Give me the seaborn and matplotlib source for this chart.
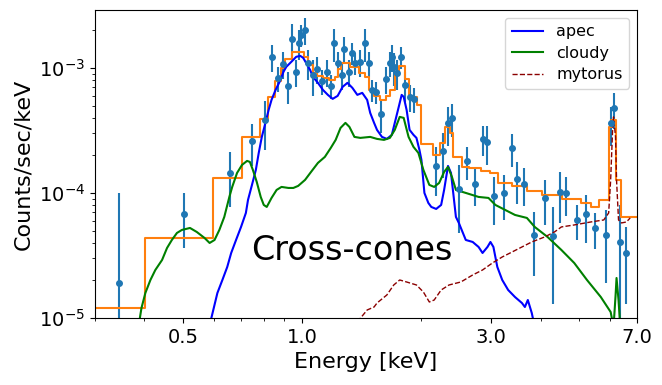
import matplotlib
matplotlib.use('Agg')
import numpy as np
import seaborn as sns
from matplotlib import pyplot as plt
from matplotlib.ticker import FixedLocator, FixedFormatter, LogLocator, NullFormatter

# binned spectrum (keV, counts/sec/keV, 1-sigma)
data_e = [0.345, 0.503, 0.658, 0.747, 0.804, 0.837, 0.867, 0.897, 0.923, 0.944,
          0.966, 0.983, 0.994, 1.017, 1.035, 1.065, 1.090, 1.121, 1.154, 1.181,
          1.201, 1.229, 1.257, 1.279, 1.316, 1.339, 1.362, 1.402, 1.443, 1.476,
          1.502, 1.537, 1.581, 1.627, 1.665, 1.684, 1.703, 1.733, 1.773, 1.814,
          1.867, 1.921, 2.179, 2.269, 2.334, 2.388, 2.486, 2.603, 2.725, 2.853,
          2.936, 3.056, 3.236, 3.388, 3.486, 3.629, 3.842, 4.093, 4.308, 4.484,
          4.642, 4.943, 5.204, 5.480, 5.838, 6.007, 6.109, 6.324, 6.584]
data_y = [1.9e-5, 6.8e-5, 1.45e-4, 2.6e-4, 3.8e-4, 1.23e-3, 8.3e-4, 1.08e-3, 7.2e-4, 1.71e-3,
          9.3e-4, 1.59e-3, 1.84e-3, 2.01e-3, 1.10e-3, 8.8e-4, 9.8e-4, 7.9e-4, 9.3e-4, 7.2e-4,
          1.59e-3, 1.10e-3, 8.8e-4, 1.42e-3, 9.3e-4, 1.32e-3, 1.10e-3, 1.12e-3, 1.59e-3, 1.10e-3,
          6.7e-4, 6.4e-4, 4.3e-4, 8.2e-4, 1.10e-3, 1.23e-3, 1.02e-3, 9.1e-4, 1.23e-3, 7.3e-4,
          5.9e-4, 5.65e-4, 1.64e-4, 2.17e-4, 3.63e-4, 3.98e-4, 1.08e-4, 1.80e-4, 1.18e-4, 2.70e-4,
          2.56e-4, 9.5e-5, 1.0e-4, 2.29e-4, 1.29e-4, 1.18e-4, 4.6e-5, 9.1e-5, 4.5e-5, 1.02e-4,
          1.0e-4, 6.1e-5, 6.8e-5, 5.25e-5, 4.6e-5, 3.63e-4, 4.79e-4, 4.05e-5, 3.3e-5]
data_err = [8.1e-5, 3.2e-5, 6.8e-5, 9.6e-5, 1.6e-4, 3.0e-4, 1.9e-4, 2.7e-4, 2.1e-4, 5.4e-4,
            2.3e-4, 4.3e-4, 3.7e-4, 5.0e-4, 3.0e-4, 2.8e-4, 2.4e-4, 1.8e-4, 2.3e-4, 1.6e-4,
            4.7e-4, 2.5e-4, 2.2e-4, 3.5e-4, 2.3e-4, 2.7e-4, 2.2e-4, 2.8e-4, 4.7e-4, 2.5e-4,
            1.35e-4, 1.3e-4, 1.26e-4, 2.0e-4, 2.5e-4, 3.0e-4, 3.0e-4, 2.5e-4, 2.5e-4, 2.0e-4,
            1.45e-4, 1.27e-4, 6.9e-5, 8.5e-5, 1.25e-4, 1.17e-4, 6.0e-5, 5.3e-5, 4.0e-5, 7.3e-5,
            8.8e-5, 4.0e-5, 3.9e-5, 6.7e-5, 4.8e-5, 4.0e-5, 2.44e-5, 3.6e-5, 3.2e-5, 4.5e-5,
            3.4e-5, 1.9e-5, 2.85e-5, 1.67e-5, 2.7e-5, 1.25e-4, 1.52e-4, 4.0e-5, 2.0e-5]

# total model, binned like the data
total_edges = [0.302, 0.402, 0.594, 0.705, 0.782, 0.818, 0.852, 0.882, 0.907, 0.944,
               1.011, 1.035, 1.065, 1.090, 1.128, 1.167, 1.208, 1.229, 1.250, 1.324,
               1.394, 1.443, 1.476, 1.519, 1.572, 1.627, 1.665, 1.713, 1.753, 1.814,
               1.856, 1.954, 2.0, 2.142, 2.230, 2.295, 2.361, 2.402, 2.529, 2.633,
               2.820, 2.987, 3.126, 3.388, 3.692, 4.022, 4.536, 5.058, 5.356, 5.608,
               5.938, 6.007, 6.18, 6.362, 7.0]
total_vals = [1.2e-5, 4.37e-5, 1.32e-4, 2.8e-4, 3.91e-4, 5.86e-4, 7.87e-4, 1.0e-3, 1.18e-3, 1.34e-3,
              1.225e-3, 1.057e-3, 9.12e-4, 8.63e-4, 8.32e-4, 8.02e-4, 8.47e-4, 9.82e-4, 1.096e-3, 1.019e-3,
              9.12e-4, 8.47e-4, 6.67e-4, 5.97e-4, 5.55e-4, 5.97e-4, 6.67e-4, 8.79e-4, 1.038e-3, 8.17e-4,
              5.86e-4, 5.06e-4, 2.47e-4, 2.01e-4, 2.51e-4, 3.37e-4, 3.02e-4, 1.94e-4, 1.61e-4, 1.585e-4,
              1.5e-4, 1.445e-4, 1.2e-4, 1.14e-4, 1.04e-4, 9.64e-5, 8.95e-5, 8.32e-5, 7.73e-5, 8.79e-5,
              3.37e-4, 3.84e-4, 1.27e-4, 6.43e-5]

# model components
apec_e = [0.58, 0.611, 0.629, 0.647, 0.662, 0.681, 0.701, 0.721, 0.730, 0.747,
          0.764, 0.777, 0.791, 0.809, 0.823, 0.837, 0.857, 0.882, 0.897, 0.912,
          0.939, 0.966, 0.989, 1.006, 1.023, 1.047, 1.065, 1.096, 1.128, 1.161,
          1.194, 1.229, 1.265, 1.301, 1.339, 1.378, 1.418, 1.459, 1.485, 1.519,
          1.545, 1.590, 1.636, 1.684, 1.713, 1.753, 1.783, 1.804, 1.835, 1.867,
          1.910, 1.943, 1.977, 2.0, 2.035, 2.082, 2.118, 2.179, 2.243, 2.282,
          2.334, 2.375, 2.444, 2.486, 2.588, 2.694, 2.788, 2.853, 2.936, 2.987,
          3.039, 3.109, 3.199, 3.311, 3.445, 3.587, 3.649, 3.712, 3.798, 3.864]
apec_y = [8e-6, 1.585e-5, 2.014e-5, 2.559e-5, 3.311e-5, 4.207e-5, 5.346e-5, 6.918e-5, 8.79e-5, 1.159e-4,
          1.528e-4, 2.089e-4, 2.805e-4, 3.698e-4, 4.613e-4, 5.546e-4, 6.67e-4, 8.02e-4, 9.29e-4, 1.019e-3,
          1.117e-3, 1.225e-3, 1.247e-3, 1.202e-3, 1.096e-3, 9.64e-4, 8.47e-4, 7.586e-4, 6.67e-4, 6.081e-4,
          5.649e-4, 5.97e-4, 7.047e-4, 7.586e-4, 6.918e-4, 6.081e-4, 6.31e-4, 5.546e-4, 4.365e-4, 3.631e-4,
          3.192e-4, 2.805e-4, 2.704e-4, 2.911e-4, 3.631e-4, 4.875e-4, 6.081e-4, 5.861e-4, 4.613e-4, 3.192e-4,
          2.911e-4, 2.754e-4, 2.208e-4, 1.837e-4, 1.0e-4, 8.318e-5, 7.727e-5, 7.447e-5, 8.017e-5, 1.057e-4,
          1.644e-4, 1.445e-4, 6.43e-5, 5.754e-5, 4.207e-5, 4.055e-5, 3.698e-5, 3.311e-5, 3.698e-5, 4.055e-5,
          3.698e-5, 2.559e-5, 2.014e-5, 1.675e-5, 1.472e-5, 1.318e-5, 1.225e-5, 1.393e-5, 1.096e-5, 8.5e-6]

cloudy_e = [0.385, 0.393, 0.402, 0.414, 0.426, 0.443, 0.456, 0.469, 0.483, 0.497,
            0.521, 0.542, 0.567, 0.584, 0.601, 0.618, 0.636, 0.655, 0.666, 0.685,
            0.705, 0.726, 0.738, 0.751, 0.768, 0.786, 0.800, 0.814, 0.837, 0.862,
            0.887, 0.923, 0.950, 0.977, 1.017, 1.053, 1.096, 1.141, 1.181, 1.215,
            1.250, 1.286, 1.316, 1.355, 1.402, 1.485, 1.545, 1.609, 1.665, 1.713,
            1.763, 1.804, 1.856, 1.910, 1.965, 2.023, 2.094, 2.154, 2.217, 2.282,
            2.334, 2.388, 2.444, 2.588, 2.788, 2.953, 3.074, 3.254, 3.445, 3.692,
            3.864, 4.163, 4.511, 4.861, 5.235, 5.673, 6.007, 6.109, 6.18, 6.216,
            6.288, 6.36]
cloudy_y = [8e-6, 1.2e-5, 1.585e-5, 2.014e-5, 2.421e-5, 2.911e-5, 3.631e-5, 4.207e-5, 4.786e-5, 5.058e-5,
            5.248e-5, 4.875e-5, 4.365e-5, 3.981e-5, 4.207e-5, 5.058e-5, 6.43e-5, 9.29e-5, 1.117e-4, 1.445e-4,
            1.675e-4, 1.803e-4, 1.77e-4, 1.528e-4, 1.225e-4, 9.29e-5, 8.017e-5, 7.727e-5, 9.12e-5, 1.057e-4,
            1.117e-4, 1.096e-4, 1.096e-4, 1.138e-4, 1.271e-4, 1.472e-4, 1.738e-4, 1.941e-4, 2.291e-4, 2.655e-4,
            3.311e-4, 3.631e-4, 3.373e-4, 2.805e-4, 2.754e-4, 2.805e-4, 2.704e-4, 2.655e-4, 2.754e-4, 3.192e-4,
            4.055e-4, 3.981e-4, 2.805e-4, 2.333e-4, 2.089e-4, 1.528e-4, 1.159e-4, 1.117e-4, 1.202e-4, 1.472e-4,
            1.614e-4, 1.343e-4, 1.057e-4, 1.0e-4, 9.29e-5, 9.12e-5, 8.017e-5, 7.311e-5, 6.668e-5, 6.31e-5,
            5.346e-5, 4.446e-5, 3.5e-5, 2.754e-5, 2.014e-5, 1.472e-5, 1.117e-5, 8.5e-6, 1.5e-5, 2.089e-5,
            1.393e-5, 8e-6]

mytorus_e = [1.378, 1.459, 1.519, 1.545, 1.636, 1.703, 1.763, 1.835, 1.943, 2.023,
             2.094, 2.154, 2.243, 2.348, 2.515, 2.694, 2.853, 3.022, 3.199, 3.388,
             3.587, 3.798, 4.093, 4.334, 4.511, 4.861, 5.356, 5.771, 5.938, 6.007,
             6.075, 6.109, 6.18, 6.216, 6.288, 6.397, 6.584, 6.73]
mytorus_y = [9.3e-6, 1.159e-5, 1.225e-5, 1.318e-5, 1.528e-5, 1.837e-5, 2.014e-5, 1.941e-5, 1.837e-5, 1.614e-5,
             1.343e-5, 1.393e-5, 1.675e-5, 1.837e-5, 1.941e-5, 2.208e-5, 2.421e-5, 2.754e-5, 3.076e-5, 3.373e-5,
             3.698e-5, 4.055e-5, 4.446e-5, 4.875e-5, 5.346e-5, 5.546e-5, 5.861e-5, 6.081e-5, 6.918e-5, 1.271e-4,
             3.192e-4, 4.055e-4, 2.805e-4, 1.271e-4, 6.081e-5, 5.754e-5, 5.861e-5, 6.31e-5]

xticks = [0.5, 1.0, 3.0, 7.0]
xtick_labels = ['0.5', '1.0', '3.0', '7.0']

fig = plt.figure(figsize=(6.62, 3.85), dpi=100)
ax = fig.add_axes([0.1435, 0.174, 0.8187, 0.8])
ax.set_xscale('log')
ax.set_yscale('log')

ax.errorbar(data_e, data_y, yerr=data_err, fmt='o', ms=4, color='C0',
            elinewidth=1.5, capsize=0)

sns.lineplot(x=total_edges, y=total_vals + [total_vals[-1]], ax=ax, color='C1',
             lw=1.5, drawstyle='steps-post', sort=False)
sns.lineplot(x=apec_e, y=apec_y, ax=ax, color='blue', lw=1.5,
             sort=False, label='apec')
sns.lineplot(x=cloudy_e, y=cloudy_y, ax=ax, color='green', lw=1.5,
             sort=False, label='cloudy')
sns.lineplot(x=mytorus_e, y=mytorus_y, ax=ax, color='darkred', lw=1,
             linestyle='--', sort=False, label='mytorus')

ax.text(0.474, 0.22, 'Cross-cones', transform=ax.transAxes, fontsize=24,
        ha='center', va='center')

ax.set_xlim(0.3, 7.0)
ax.set_ylim(1e-5, 2.9e-3)
ax.xaxis.set_major_locator(FixedLocator(xticks))
ax.xaxis.set_major_formatter(FixedFormatter(xtick_labels))
ax.xaxis.set_minor_locator(LogLocator(base=10, subs=np.arange(1, 10)))
ax.xaxis.set_minor_formatter(NullFormatter())
ax.yaxis.set_minor_formatter(NullFormatter())
ax.tick_params(labelsize=14)

ax.set_xlabel('Energy [keV]', fontsize=16)
ax.set_ylabel('Counts/sec/keV', fontsize=16)
ax.legend(loc='upper right', fontsize=11.5, labelspacing=0.4)

fig.savefig('out.png', dpi=100)
